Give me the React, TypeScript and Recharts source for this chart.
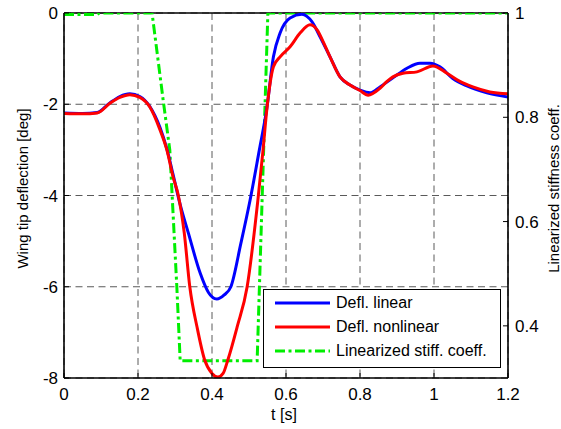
import React from 'react';
import { LineChart, Line, XAxis, YAxis, CartesianGrid, Legend, ReferenceLine } from 'recharts';

// Wing tip deflection, linear model [deg]
const timeLinear = [
  0, 0.05, 0.09, 0.124, 0.151, 0.178, 0.205, 0.232, 0.259, 0.278, 0.295, 0.314, 0.336, 0.368, 0.39,
  0.413, 0.433, 0.451, 0.478, 0.503, 0.528, 0.548, 0.566, 0.584, 0.611, 0.643, 0.67, 0.692, 0.719,
  0.746, 0.773, 0.8, 0.827, 0.854, 0.889, 0.927, 0.962, 0.989, 1.016, 1.05, 1.089, 1.143, 1.2,
];
const deflLinear = [
  -2.19, -2.2, -2.18, -1.97, -1.83, -1.77, -1.83, -2.05, -2.5, -2.98, -3.55, -4.2, -4.82, -5.7, -6.12,
  -6.27, -6.18, -6.0, -5.05, -4.1, -3.0, -2.1, -0.96, -0.44, -0.11, -0.03, -0.19, -0.52, -0.96,
  -1.4, -1.58, -1.69, -1.75, -1.62, -1.42, -1.21, -1.1, -1.1, -1.18, -1.43, -1.6, -1.75, -1.84,
];

// Wing tip deflection, nonlinear model [deg]
const timeNonlinear = [
  0, 0.05, 0.09, 0.124, 0.151, 0.178, 0.205, 0.232, 0.259, 0.278, 0.295, 0.309, 0.325, 0.34, 0.36,
  0.38, 0.4, 0.416, 0.43, 0.443, 0.468, 0.495, 0.524, 0.538, 0.548, 0.566, 0.584, 0.611, 0.638,
  0.665, 0.684, 0.7, 0.719, 0.746, 0.773, 0.8, 0.822, 0.854, 0.873, 0.889, 0.916, 0.954, 0.997,
  1.035, 1.07, 1.105, 1.151, 1.2,
];
const deflNonlinear = [
  -2.2, -2.21, -2.19, -1.98, -1.85, -1.79, -1.85, -2.06, -2.55, -3.0, -3.6, -4.0, -4.82, -6.0, -6.9,
  -7.6, -7.9, -7.98, -7.9, -7.6, -6.88, -6.0, -4.1, -3.0, -2.13, -1.18, -0.96, -0.74, -0.44,
  -0.26, -0.37, -0.62, -0.96, -1.4, -1.58, -1.7, -1.8, -1.65, -1.5, -1.4, -1.32, -1.29, -1.16,
  -1.32, -1.5, -1.62, -1.73, -1.77,
];

// Linearized stiffness coefficient [-]
const timeStiff = [0, 0.09, 0.095, 0.238, 0.268, 0.286, 0.305, 0.314, 0.522, 0.551, 1.2];
const stiffCoeff = [0.997, 0.997, 1, 1, 0.833, 0.737, 0.474, 0.333, 0.333, 1, 1];

const tTicks = [0, 0.2, 0.4, 0.6, 0.8, 1, 1.2];
const deflTicks = [-8, -6, -4, -2, 0];
const stiffTicks = [0.4, 0.6, 0.8, 1];

const FONT = '"Liberation Sans", Arial, Helvetica, sans-serif';

const toPoints = (t: number[], v: number[]) => t.map((x, i) => ({ t: x, value: v[i] }));

const series = [
  { key: 'linear', name: 'Defl. linear', color: '#0000ff', dash: undefined, axis: 'defl', data: toPoints(timeLinear, deflLinear), type: 'monotone' },
  { key: 'nonlinear', name: 'Defl. nonlinear', color: '#ff0000', dash: undefined, axis: 'defl', data: toPoints(timeNonlinear, deflNonlinear), type: 'monotone' },
  { key: 'stiff', name: 'Linearized stiff. coeff.', color: '#00ee00', dash: '10 3.5 3 3.5', axis: 'stiff', data: toPoints(timeStiff, stiffCoeff), type: 'linear' },
];

// green is drawn underneath the two deflection curves
const drawOrder = ['stiff', 'linear', 'nonlinear'];

const tickStyle = { fill: '#000', fontSize: 17 };
const axisLineStyle = { stroke: '#000', strokeWidth: 1.6 };
const tickLineStyle = { stroke: '#000', strokeWidth: 1 };

const verticalLabel = (text: string, dx: number) => (props: any) => {
  const { viewBox } = props;
  const x = viewBox.x + dx;
  const y = viewBox.y + viewBox.height / 2 - 7;
  return (
    <text
      x={x}
      y={y}
      transform={`rotate(-90, ${x}, ${y})`}
      textAnchor="middle"
      dominantBaseline="central"
      fontSize={15}
      fill="#000"
    >
      {text}
    </text>
  );
};

const timeLabel = (props: any) => {
  const { viewBox } = props;
  return (
    <text
      x={viewBox.x + viewBox.width / 2 - 2}
      y={viewBox.y + 36}
      textAnchor="middle"
      dominantBaseline="central"
      fontSize={16}
      fill="#000"
    >
      t [s]
    </text>
  );
};

const renderLegend = () => (
  <div
    style={{
      width: 238,
      height: 79,
      boxSizing: 'border-box',
      border: '1px solid #000',
      background: '#fff',
      padding: '1px 0 0 11px',
    }}
  >
    {series.map((s) => (
      <div key={s.key} style={{ display: 'flex', alignItems: 'center', height: 24 }}>
        <svg width={55} height={6} style={{ display: 'block' }}>
          <line x1={0} x2={55} y1={3} y2={3} stroke={s.color} strokeWidth={3} strokeDasharray={s.dash} />
        </svg>
        <span style={{ marginLeft: 6, fontSize: 16, lineHeight: '24px', color: '#000' }}>{s.name}</span>
      </div>
    ))}
  </div>
);

export default function App() {
  return (
    <div style={{ position: 'absolute', left: 0, top: 0, width: 561, height: 429, background: '#fff', fontFamily: FONT }}>
      <LineChart width={561} height={429} margin={{ top: 13, right: 0, bottom: 0, left: 0 }}>
        <CartesianGrid yAxisId="defl" stroke="#5a5a5a" strokeDasharray="7 4.5" />
        <XAxis
          dataKey="t"
          type="number"
          domain={[0, 1.2]}
          ticks={tTicks}
          height={51}
          tick={tickStyle}
          tickSize={-5}
          tickMargin={15}
          axisLine={axisLineStyle}
          tickLine={tickLineStyle}
          label={timeLabel}
          allowDataOverflow
        />
        <YAxis
          yAxisId="defl"
          orientation="left"
          width={64}
          domain={[-8, 0]}
          ticks={deflTicks}
          tick={tickStyle}
          tickSize={-5}
          tickMargin={11}
          axisLine={axisLineStyle}
          tickLine={tickLineStyle}
          label={verticalLabel('Wing tip deflection [deg]', 22)}
          allowDataOverflow
        />
        <YAxis
          yAxisId="stiff"
          orientation="right"
          width={53}
          domain={[0.3, 1]}
          ticks={stiffTicks}
          tick={tickStyle}
          tickSize={-5}
          tickMargin={12}
          axisLine={axisLineStyle}
          tickLine={tickLineStyle}
          label={verticalLabel('Linearized stiffness coeff.', 45)}
          allowDataOverflow
        />
        <ReferenceLine yAxisId="defl" y={0} stroke="#000" strokeWidth={1.6} />
        {drawOrder.map((key) => {
          const s = series.find((item) => item.key === key)!;
          return (
            <Line
              key={s.key}
              yAxisId={s.axis}
              data={s.data}
              dataKey="value"
              name={s.name}
              type={s.type as any}
              stroke={s.color}
              strokeWidth={3}
              strokeDasharray={s.dash}
              dot={false}
              activeDot={false}
              isAnimationActive={false}
            />
          );
        })}
        <Legend
          layout="vertical"
          align="center"
          verticalAlign="middle"
          content={renderLegend}
          wrapperStyle={{ left: 263, top: 289, width: 238, height: 79 }}
        />
      </LineChart>
    </div>
  );
}
